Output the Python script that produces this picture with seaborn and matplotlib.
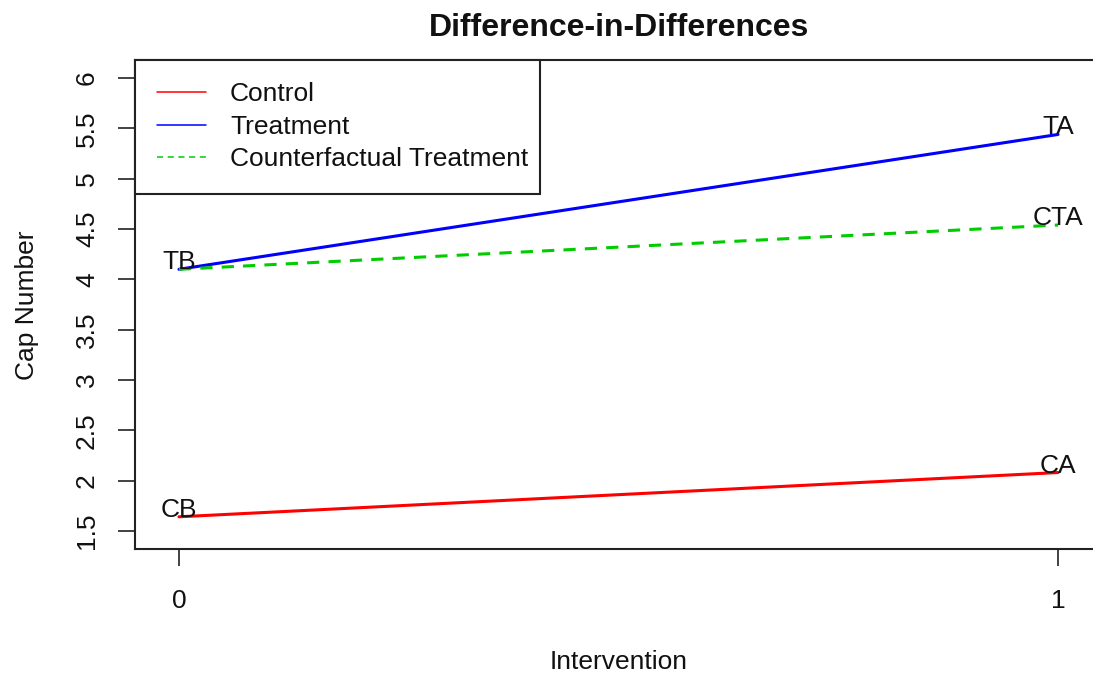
import matplotlib
matplotlib.use("Agg")
import matplotlib.pyplot as plt
import seaborn as sns
import pandas as pd

# Values
intervention = [0, 1]
control = [1.64, 2.08]
treatment = [4.10, 5.44]
counterfactual = [4.10, 4.54]
point_labels = {"control": ["CB", "CA"], "treatment": ["TB", "TA"], "counterfactual": [None, "CTA"]}
y_ticks = [1.5, 2, 2.5, 3, 3.5, 4, 4.5, 5, 5.5, 6]
y_tick_labels = ["1.5", "2", "2.5", "3", "3.5", "4", "4.5", "5", "5.5", "6"]

sns.set_theme(style="white")
plt.rcParams["font.family"] = ["Liberation Sans", "DejaVu Sans"]

# Long-form table for seaborn
df = pd.DataFrame({
    "Intervention": intervention * 3,
    "Cap": control + treatment + counterfactual,
    "group": ["Control"] * 2 + ["Treatment"] * 2 + ["Counterfactual Treatment"] * 2,
})

colors = {"Control": "#FF0000", "Treatment": "#0000FF", "Counterfactual Treatment": "#00CD00"}

fig = plt.figure(figsize=(10.93, 6.75), dpi=100)
ax = fig.add_axes([135 / 1093, 126 / 675, 967 / 1093, 489 / 675])

for name in ["Control", "Treatment", "Counterfactual Treatment"]:
    sub = df[df["group"] == name]
    sns.lineplot(data=sub, x="Intervention", y="Cap", color=colors[name], lw=2.2,
                 ax=ax, legend=False, estimator=None)
# dashed counterfactual
ax.lines[2].set_dashes((4, 3))

# point labels
for key, vals in [("control", control), ("treatment", treatment), ("counterfactual", counterfactual)]:
    for x, y, lab in zip(intervention, vals, point_labels[key]):
        if lab:
            ax.text(x, y, lab, ha="center", va="baseline", fontsize=19, color="#111111")

ax.set_xlim(-0.05, 1.05)
ax.set_ylim(1.32, 6.18)
ax.set_xticks(intervention)
ax.set_xticklabels(["0", "1"])
ax.set_yticks(y_ticks)
ax.set_yticklabels(y_tick_labels, rotation=90, va="center")
ax.tick_params(axis="both", direction="out", length=12, width=1.2, colors="#222222",
               labelsize=19, labelcolor="#111111", left=True, bottom=True)
ax.tick_params(axis="y", pad=14)
ax.tick_params(axis="x", pad=17)
for s in ax.spines.values():
    s.set_color("#222222")
    s.set_linewidth(1.5)

ax.set_xlabel("")
ax.set_ylabel("")
fig.text(619 / 1093, 1 - 662 / 675, "Intervention", ha="center", va="center", fontsize=19, color="#111111")
fig.text(27 / 1093, 1 - 305 / 675, "Cap Number", ha="center", va="center", rotation=90,
         fontsize=19, color="#111111")
fig.text(619 / 1093, 1 - 28 / 675, "Difference-in-Differences", ha="center", va="center",
         fontsize=23, fontweight="bold", color="#111111")

# legend with thin lines, square box in top-left corner
handles = [plt.Line2D([], [], color=colors["Control"], lw=1.1),
           plt.Line2D([], [], color=colors["Treatment"], lw=1.1),
           plt.Line2D([], [], color=colors["Counterfactual Treatment"], lw=1.1, dashes=(4, 3))]
leg = ax.legend(handles, ["Control", "Treatment", "Counterfactual Treatment"],
                loc="upper left", bbox_to_anchor=(0, 0, 405 / 967, 1), mode="expand",
                borderaxespad=0, fontsize=19, handlelength=1.85, handletextpad=0.9,
                labelspacing=0.32, borderpad=0.85, fancybox=False, framealpha=1)
leg.get_frame().set_edgecolor("#222222")
leg.get_frame().set_linewidth(1.5)
for t in leg.get_texts():
    t.set_color("#111111")

fig.savefig("out.png", dpi=100)
